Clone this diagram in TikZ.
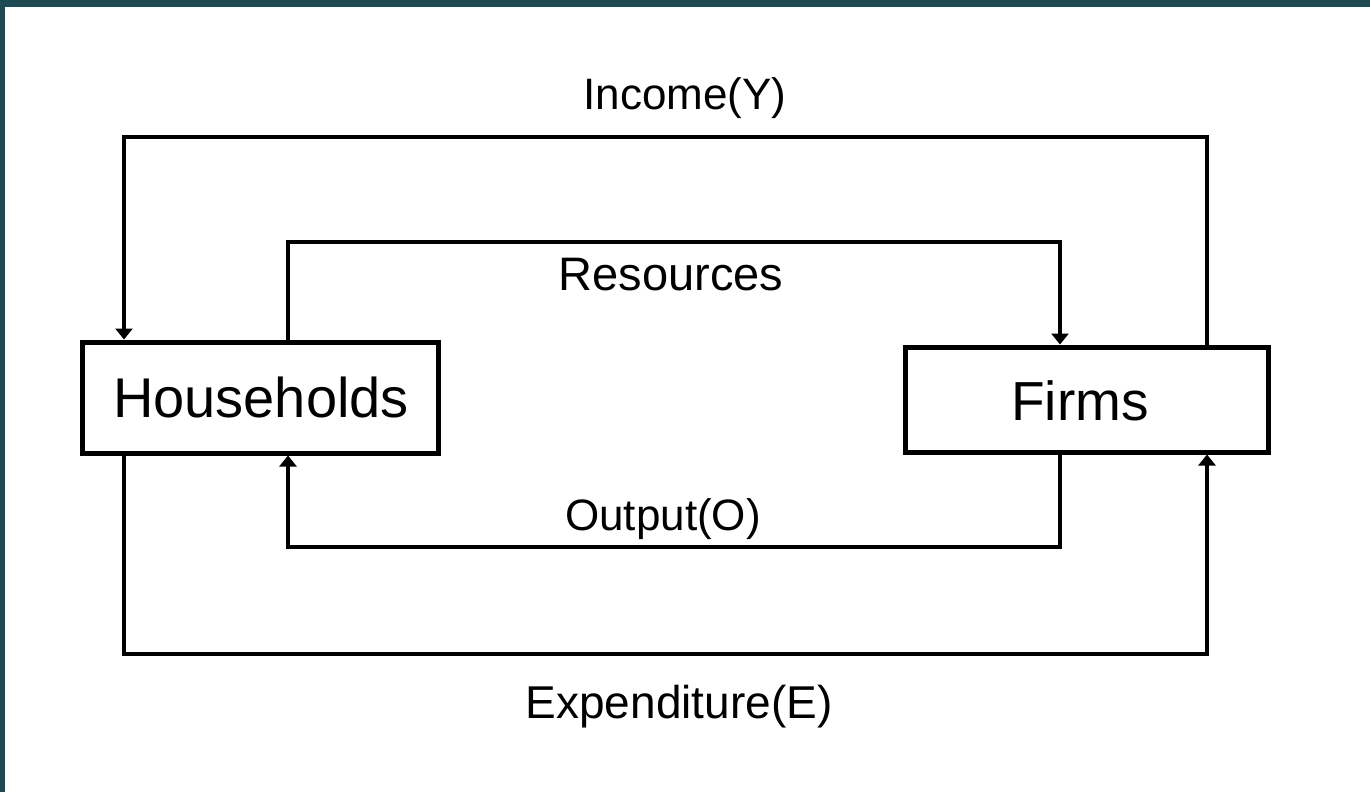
\documentclass[tikz,border=0pt]{standalone}
\usepackage{fontspec}
\setmainfont{Liberation Sans}
\usetikzlibrary{arrows.meta}
\definecolor{frame}{RGB}{30,74,84}
\begin{document}
\begin{tikzpicture}[x=1pt,y=-1pt,
  box/.style={draw=black,line width=5pt,fill=white,inner sep=0pt},
  lbl/.style={anchor=base,inner sep=0pt},
  conn/.style={line width=4pt,line join=miter,-{Triangle[width=17pt,length=11pt]}},
  inconn/.style={line width=3.5pt,line join=miter,-{Triangle[width=17pt,length=11pt]}}]
\useasboundingbox (0,0) rectangle (1370,792);
\fill[frame] (0,0) rectangle (1370,792);
\fill[white] (5,7) rectangle (1370,792);
% boxes
\node[box,minimum width=356pt,minimum height=111pt] (H) at (260,397.5) {};
\node[lbl] (Ht) at (261,417) {\fontsize{56}{60}\selectfont Households};
\node[box,minimum width=363pt,minimum height=105pt] (F) at (1086.5,399.5) {};
\node[lbl] (Ft) at (1080,420) {\fontsize{55}{60}\selectfont Firms};
% corner coordinates
\coordinate (oTL) at (124,137);
\coordinate (oTR) at (1207,137);
\coordinate (oBL) at (124,654);
\coordinate (oBR) at (1207,654);
\coordinate (iTL) at (288,242);
\coordinate (iTR) at (1060,242);
\coordinate (iBL) at (288,547);
\coordinate (iBR) at (1060,547);
% connectors
\draw[conn] (F.north -| oTR) -- (oTR) -- (oTL) -- (H.north -| oTL);
\draw[inconn] (H.north -| iTL) -- (iTL) -- (iTR) -- (F.north -| iTR);
\draw[inconn] (F.south -| iBR) -- (iBR) -- (iBL) -- (H.south -| iBL);
\draw[conn] (H.south -| oBL) -- (oBL) -- (oBR) -- (F.south -| oBR);
% labels
\node[lbl] (inc) at (685,109) {\fontsize{44}{50}\selectfont Income(Y)};
\node[lbl] (res) at (671,290) {\fontsize{47}{52}\selectfont Resources};
\node[lbl] (out) at (663,530) {\fontsize{44}{50}\selectfont Output(O)};
\node[lbl] (exp) at (679,718) {\fontsize{46}{52}\selectfont Expenditure(E)};
\end{tikzpicture}
\end{document}
